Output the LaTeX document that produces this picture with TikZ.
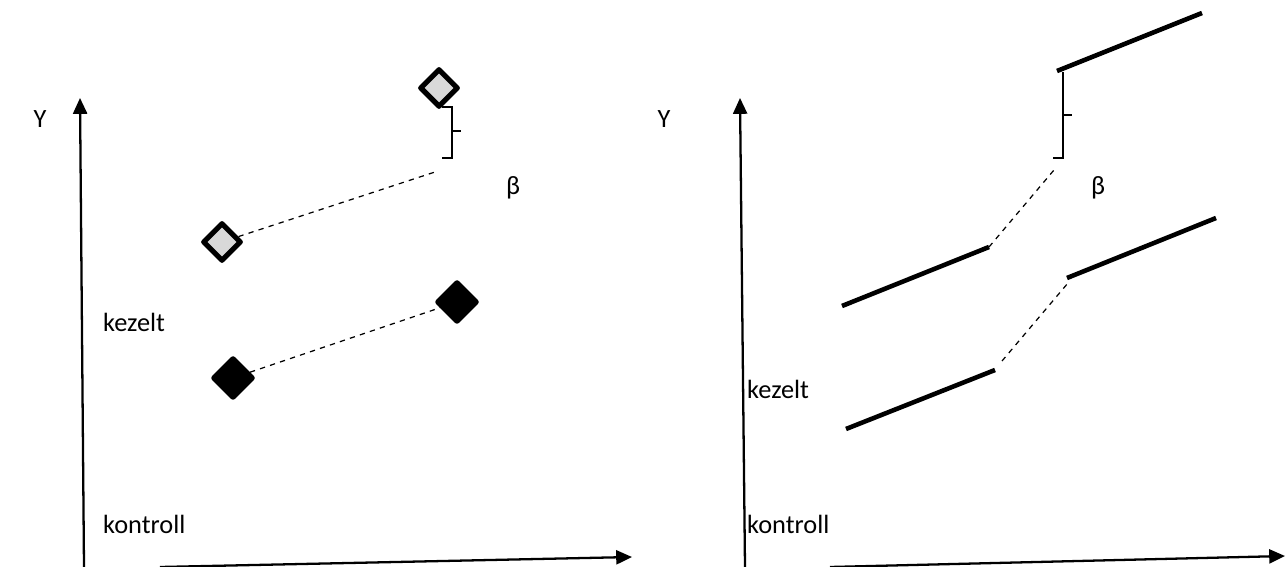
\documentclass[tikz,border=0pt]{standalone}
\usepackage{fontspec}
\setmainfont{Carlito}
\usetikzlibrary{arrows.meta,shapes.geometric}

\begin{document}
\begin{tikzpicture}[x=0.02cm,y=-0.02cm,
    every node/.style={font=\fontsize{15}{17}\selectfont},
    axis/.style={line width=1.3pt,-{Triangle[length=9pt,width=8pt]}},
    seg/.style={line width=2.6pt},
    link/.style={dashed,line width=0.7pt},
    brace/.style={line width=1pt},
    grey/.style={diamond,draw,line width=3pt,line join=round,fill=black!15,
      inner sep=0pt,minimum size=22pt},
    solid/.style={diamond,draw,line width=3pt,line join=round,fill=black,
      inner sep=0pt,minimum size=23pt}]
      \useasboundingbox (0,0) rectangle (1285,567);

      \coordinate (o1) at (84,567);
      \coordinate (y1) at (80,98);
      \coordinate (x0) at (160,567);
      \coordinate (x1) at (632,557);
      \draw[axis] (o1) -- (y1);
      \draw[axis] (x0) -- (x1);

      \node (ly) at (40,119) {Y};
      \node[anchor=west] (lk) at (97,322) {kezelt};
      \node[anchor=west] (lc) at (97,524) {kontroll};
      \node (lb) at (513,188) {β};

      \node[grey] (g1) at (222,242) {};
      \node[grey] (g2) at (439,88) {};
      \node[solid] (b1) at (233,378) {};
      \node[solid] (b2) at (457,302) {};
      \coordinate (ge) at (435,172);

      \draw[link] (g1) -- (ge);
      \draw[link] (b1) -- (b2);
      \draw[brace] (442,107) -- (452,107) -- (452,158) -- (442,158);
      \draw[brace] (452,131) -- (461,131);

      \coordinate (o2) at (745,567);
      \coordinate (y2) at (740,98);
      \coordinate (x2) at (830,567);
      \coordinate (x3) at (1285,556);
      \draw[axis] (o2) -- (y2);
      \draw[axis] (x2) -- (x3);

      \node (ry) at (664,119) {Y};
      \node[anchor=west] (rk) at (741,389) {kezelt};
      \node[anchor=west] (rc) at (741,524) {kontroll};
      \node (rb) at (1098,188) {β};

      \coordinate (a1) at (842,306);
      \coordinate (a2) at (989,247);
      \coordinate (a3) at (1054,170);
      \coordinate (a4) at (1057,71);
      \coordinate (a5) at (1202,13);
      \coordinate (c1) at (846,429);
      \coordinate (c2) at (995,370);
      \coordinate (c3) at (1002,361);
      \coordinate (c4) at (1068,283);
      \coordinate (c5) at (1067,278);
      \coordinate (c6) at (1216,218);

      \draw[seg] (a1) -- (a2);
      \draw[seg] (a4) -- (a5);
      \draw[seg] (c1) -- (c2);
      \draw[seg] (c5) -- (c6);
      \draw[link] (a2) -- (a3);
      \draw[link] (c3) -- (c4);
      \draw[brace] (1063,72) -- (1063,158) -- (1053,158);
      \draw[brace] (1063,115) -- (1072,115);
\end{tikzpicture}
\end{document}
